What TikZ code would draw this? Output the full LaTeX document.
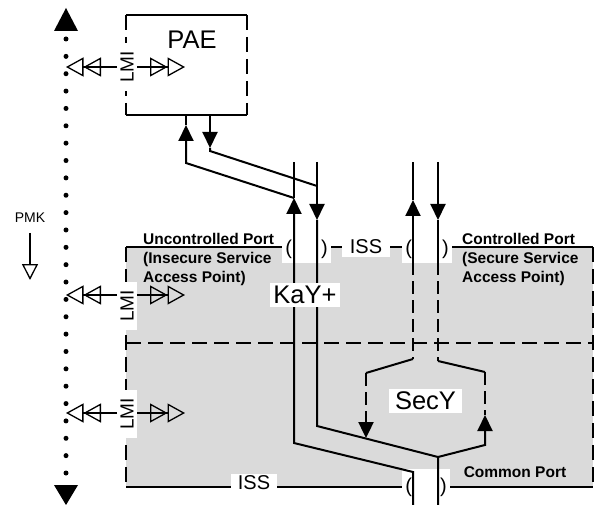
\documentclass[tikz,border=0pt]{standalone}
\usepackage{fontspec}
\setmainfont{Liberation Sans}
\usetikzlibrary{arrows.meta}
\definecolor{portgray}{RGB}{218,218,218}
\begin{document}
\begin{tikzpicture}[x=1pt,y=-1pt,
  conn/.style={line width=2pt},
  dconn/.style={line width=2.4pt, dash pattern=on 13pt off 6pt},
  solidedge/.style={line width=2.7pt},
  dashedge/.style={line width=2.7pt, dash pattern=on 15pt off 7pt},
  arr/.style={-{Triangle[length=16pt,width=15pt]}},
  lmiarrow/.style={line width=1.3pt, -{Triangle[open,length=17.5pt,width=19pt]Triangle[open,length=17.5pt,width=19pt]}},
  whitebox/.style={fill=white, inner sep=0pt},
  bigfont/.style={font=\fontsize{25.5}{29}\selectfont},
  midfont/.style={font=\fontsize{20}{24}\selectfont},
  portfont/.style={font=\bfseries\fontsize{15.5}{19}\selectfont},
  lmi/.style={whitebox, rotate=90, font=\fontsize{19}{22}\selectfont, minimum width=48pt, minimum height=20pt},
]
\useasboundingbox (0,0) rectangle (597,505);

% shaded port region
\fill[portgray] (126,247) rectangle (593,487);
\draw[solidedge] (126,247) -- (282,247);
\draw[solidedge] (331,247) -- (342,247);
\draw[solidedge] (390,247) -- (402,247);
\draw[solidedge] (452,247) -- (593,247);
\draw[dashedge] (126,247) -- (126,487);
\draw[dashedge] (593,247) -- (593,487);
\draw[dashedge] (126,343) -- (593,343);
\draw[solidedge] (126,487) -- (593,487);

% PAE box
\draw[solidedge] (126,15) -- (247,15);
\draw[solidedge] (126,115) -- (247,115);
\draw[dashedge] (126,15) -- (126,115);
\draw[dashedge] (247,15) -- (247,115);
\node[bigfont] (paetxt) at (192,40) {PAE};

% white label boxes on port border
\node[whitebox, midfont, minimum width=49pt, minimum height=27pt] (pl1) at (306.5,249) {(\hspace{29pt})};
\node[whitebox, midfont, minimum width=48pt, minimum height=20pt] (isstop) at (366,247) {ISS};
\node[whitebox, midfont, minimum width=50pt, minimum height=27pt] (pl2) at (427,249) {(\hspace{30pt})};
\node[whitebox, midfont, minimum width=46pt, minimum height=19pt] (issbot) at (254,483) {ISS};
\node[whitebox, midfont, minimum width=48pt, minimum height=37pt] (pl3) at (426,487) {(\hspace{28pt})};

% coordinates
\coordinate (t294) at (294,162);
\coordinate (u294) at (294,198);
\coordinate (b294) at (294,443);
\coordinate (c413) at (413,472);
\coordinate (e413) at (413,505);
\coordinate (pae1) at (186,163);
\coordinate (pae1tip) at (186,125);
\coordinate (pae1top) at (186,115);
\coordinate (t317) at (317,162);
\coordinate (d317) at (317,220);
\coordinate (b317) at (317,426);
\coordinate (j438) at (438,457);
\coordinate (e438) at (438,505);
\coordinate (pae2top) at (210,115);
\coordinate (pae2tip) at (210,148);
\coordinate (pae2b) at (210,151);
\coordinate (m317) at (317,186);
\coordinate (t413) at (413,162);
\coordinate (u413) at (413,200);
\coordinate (g413) at (413,262);
\coordinate (s413) at (413,359);
\coordinate (s366) at (366,373);
\coordinate (d366) at (366,438);
\coordinate (t438) at (438,162);
\coordinate (d438) at (438,220);
\coordinate (g438) at (438,262);
\coordinate (s438) at (438,361);
\coordinate (s485) at (485,372);
\coordinate (u485) at (485,415);
\coordinate (b485) at (485,445);

% uncontrolled pair
\draw[conn, arr] (e413) -- (c413) -- (b294) -- (u294);
\draw[conn] (u294) -- (t294);
\draw[conn, arr] (u294) -- (pae1) -- (pae1tip);
\draw[conn] (pae1tip) -- (pae1top);
\draw[conn, arr] (t317) -- (d317);
\draw[conn] (d317) -- (b317) -- (j438) -- (e438);
\draw[conn, arr] (pae2top) -- (pae2tip);
\draw[conn] (pae2tip) -- (pae2b) -- (m317);

% controlled pair
\draw[conn, arr] (g413) -- (u413);
\draw[conn] (u413) -- (t413);
\draw[dconn] (g413) -- (s413);
\draw[conn] (s413) -- (s366);
\draw[dconn, arr] (s366) -- (d366);
\draw[conn, arr] (t438) -- (d438);
\draw[conn] (d438) -- (g438);
\draw[dconn] (g438) -- (s438);
\draw[conn] (s438) -- (s485);
\draw[dconn] (s485) -- (u485);
\draw[conn, arr] (j438) -- (b485) -- (u485);

% entity labels
\node[whitebox, bigfont, minimum width=70pt, minimum height=24pt] (kay) at (305,295) {KaY+};
\node[whitebox, bigfont, minimum width=73pt, minimum height=24pt] (secy) at (425.5,401) {SecY};

% port texts
\node[portfont, align=left, anchor=north west, inner sep=0pt] (ucp) at (143,233) {Uncontrolled Port\\(Insecure Service\\Access Point)};
\node[portfont, align=left, anchor=north west, inner sep=0pt] (cp) at (462,233) {Controlled Port\\(Secure Service\\Access Point)};
\node[portfont] (comp) at (515,472) {Common Port};

% PMK dotted line
\coordinate (dtop) at (66,39);
\coordinate (dbot) at (66,473);
\draw[line width=5pt, line cap=round, dash pattern=on 0pt off 17.36pt] (dtop) -- (dbot);
\fill (54,31) -- (66,8) -- (78,31) -- cycle;
\fill (54,485) -- (66,505) -- (78,485) -- cycle;
\node[font=\fontsize{14}{16}\selectfont] (pmk) at (30,218) {PMK};
\coordinate (pmka) at (30,233);
\coordinate (pmkb) at (30,280);
\draw[line width=1.3pt, -{Triangle[open,length=16pt,width=16pt]}] (pmka) -- (pmkb);

% LMI
\node[lmi] (lmi1) at (127,67) {LMI};
\node[lmi] (lmi2) at (127,306) {LMI};
\node[lmi] (lmi3) at (127,414) {LMI};
\coordinate (l1a) at (117,67); \coordinate (l1b) at (66,67);
\coordinate (l1c) at (137,67); \coordinate (l1d) at (185,67);
\coordinate (l2a) at (117,295); \coordinate (l2b) at (66,295);
\coordinate (l2c) at (137,295); \coordinate (l2d) at (185,295);
\coordinate (l3a) at (117,413); \coordinate (l3b) at (66,413);
\coordinate (l3c) at (137,413); \coordinate (l3d) at (185,413);
\draw[lmiarrow] (l1a) -- (l1b);
\draw[lmiarrow] (l1c) -- (l1d);
\draw[lmiarrow] (l2a) -- (l2b);
\draw[lmiarrow] (l2c) -- (l2d);
\draw[lmiarrow] (l3a) -- (l3b);
\draw[lmiarrow] (l3c) -- (l3d);
\end{tikzpicture}
\end{document}
